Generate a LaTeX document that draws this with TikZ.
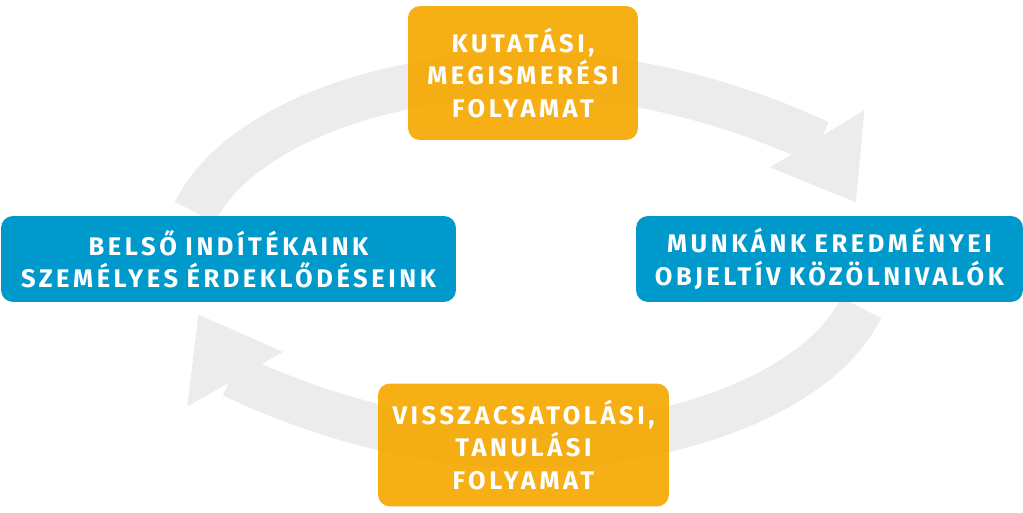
\documentclass[tikz,border=0pt]{standalone}
\usepackage{fontspec}
\setmainfont{Fira Sans}
\usetikzlibrary{arrows.meta}
\definecolor{boxblue}{HTML}{0099CC}
\definecolor{boxorange}{HTML}{F5A800}
\tikzset{
  box/.style={rounded corners=0.24cm, text=white, align=center,
    font=\fontsize{14.5}{18.5}\selectfont\bfseries\addfontfeatures{LetterSpace=14}, inner sep=0pt},
  bluebox/.style={box, fill=boxblue},
  orangebox/.style={box, fill=boxorange, fill opacity=0.92, text opacity=1},
  cycle/.style={line width=0.9cm, -{Triangle[length=1.5cm, width=2.1cm]}}
}
\begin{document}
\begin{tikzpicture}[x=0.02cm, y=0.02cm]
  \useasboundingbox (0,0) rectangle (1023,512);
  % circular arrows
  \draw[cycle, gray!15] (528,252) ++(165:345 and 185) arc[start angle=165, end angle=18, x radius=345, y radius=185];
  \draw[cycle, gray!15] (528,252) ++(-15:345 and 185) arc[start angle=-15, end angle=-163, x radius=345, y radius=185];
  % boxes
  \node[orangebox, text width=4.6cm, minimum height=2.68cm] (kutatas) at (523,439) {KUTATÁSI,\\MEGISMERÉSI\\FOLYAMAT};
  \node[bluebox, text width=9.1cm, minimum height=1.72cm] (belso) at (228.5,253) {BELSŐ INDÍTÉKAINK\\SZEMÉLYES ÉRDEKLŐDÉSEINK};
  \node[bluebox, text width=7.74cm, minimum height=1.72cm] (munka) at (829.5,253) {MUNKÁNK EREDMÉNYEI\\OBJELTÍV KÖZÖLNIVALÓK};
  \node[orangebox, text width=5.82cm, minimum height=2.46cm] (vissza) at (523.5,67) {VISSZACSATOLÁSI,\\TANULÁSI\\FOLYAMAT};
\end{tikzpicture}
\end{document}
